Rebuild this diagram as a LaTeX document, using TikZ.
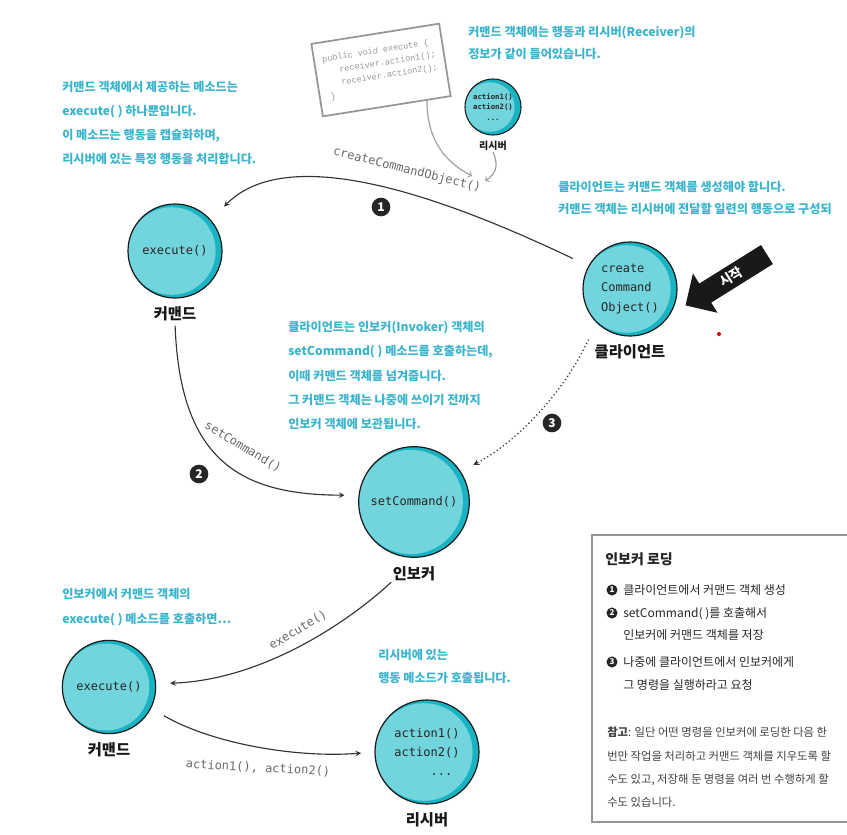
\documentclass[tikz,border=0pt]{standalone}
\usepackage{fontspec}
\setmainfont{Noto Sans CJK KR}
\setmonofont{DejaVu Sans Mono}
\newfontfamily\codefont{Liberation Mono}
\usepackage{xcolor}
\usetikzlibrary{shapes, arrows, calc, positioning}

\definecolor{ballface}{RGB}{114,212,220}
\definecolor{ballrim}{RGB}{24,180,196}
\definecolor{notecyan}{RGB}{58,180,204}
\definecolor{callgray}{RGB}{105,105,105}
\definecolor{framegray}{RGB}{150,150,150}

\tikzset{
  ball/.style={circle, draw=black!90, line width=0.9pt, fill=ballrim, inner sep=0pt,
    align=left, text=black!85, font=\ttfamily\fontsize{9}{14.5}\selectfont,
    path picture={\fill[ballface] let \p1=(path picture bounding box.east),
      \p2=(path picture bounding box.center) in
      ($(\p2)+(-2.4pt,0pt)$) circle[radius={\x1-\x2-2.4pt}];}},
  ballname/.style={font=\bfseries\fontsize{11.5}{12}\selectfont, text=black!90, inner sep=1pt},
  call/.style={text=callgray, font=\ttfamily\fontsize{9}{9}\selectfont, inner sep=1pt},
  flow/.style={-stealth, line width=0.85pt, draw=black!80},
  hint/.style={->, line width=0.9pt, draw=gray!75},
  badge/.style={circle, fill=black!85, text=white, font=\bfseries\fontsize{9}{9}\selectfont,
    inner sep=0pt, minimum size=14pt},
  minibadge/.style={badge, minimum size=8.3pt, font=\bfseries\fontsize{6}{6}\selectfont},
  note/.style={text=notecyan, font=\bfseries\fontsize{9.1}{18}\selectfont, align=left,
    anchor=north west, inner sep=0pt},
  boxtext/.style={text=black!85, font=\fontsize{9}{9}\selectfont, anchor=base west, inner sep=0pt},
  tiptext/.style={boxtext, font=\fontsize{8.5}{8.5}\selectfont, text=black!75},
  codebox/.style={draw=framegray, line width=1.3pt, fill=white, align=left, text=gray!80,
    font=\codefont\fontsize{6.4}{9.6}\selectfont, minimum width=97pt, minimum height=55pt, inner sep=4pt}
}

\begin{document}
\begin{tikzpicture}[x=0.75pt, y=-0.75pt]
\useasboundingbox (0,0) rectangle (847,835);

% objects
\node[ball, minimum size=70.5pt] (cmdA) at (175,251) {execute()};
\node[ballname, below=5pt of cmdA] (cmdAL) {커맨드};
\node[ball, minimum size=70.5pt] (client) at (630,289) {create\\Command\\Object()};
\node[ballname, below=5pt of client] (clientL) {클라이언트};
\node[ball, minimum size=83pt] (inv) at (414,502) {setCommand()};
\node[ballname, below=5pt of inv] (invL) {인보커};
\node[ball, minimum size=70pt] (cmdB) at (109,687) {execute()};
\node[ballname, below=5pt of cmdB] (cmdBL) {커맨드};
\node[ball, minimum size=78pt] (rcvB) at (427,752) {action1()\\action2()\\\phantom{actio}...};
\node[ballname, below=5pt of rcvB] (rcvBL) {리시버};
\node[ball, minimum size=42pt, align=center, line width=0.8pt,
  font=\ttfamily\bfseries\fontsize{5.5}{7.9}\selectfont] (rcvA) at (493,107) {action1()\\action2()\\...};
\node[ballname, font=\bfseries\fontsize{7.5}{8}\selectfont, below=3pt of rcvA] (rcvAL) {리시버};

\node[codebox, rotate=9] (code) at (381,70) {public void execute \{\\\hspace*{1.8em}receiver.action1();\\\hspace*{1.8em}receiver.action2();\\\hspace*{0.3em}\}};

% pointers to the call
\coordinate (hintA) at (472,176);
\coordinate (hintB) at (485,181);
\draw[hint] ($(code.south)!0.62!(code.south east)$) .. controls (427,140) and (445,162) .. (hintA);
\draw[hint] (rcvAL.south) .. controls (500,168) and (494,175) .. (hintB);

% calls
\draw[flow, shorten <=13pt, shorten >=14pt] (client.151) .. controls (450,200) and (290,140) .. (cmdA.41);
\node[call, rotate=-14] (ccoCall) at (407,170) {createCommandObject()};
\node[badge] (b1) at (381,207) {1};

\draw[flow, shorten <=2pt, shorten >=10.5pt] (cmdAL.south) .. controls (180,460) and (240,495) .. (inv.173);
\node[call, rotate=-31] (setCall) at (243,447) {setCommand()};
\node[badge] (b2) at (199,474) {2};

\draw[flow, dotted, line width=1pt, shorten <=14pt, shorten >=10.5pt] (client.225) .. controls (565,390) and (520,440) .. (inv.33);
\node[badge] (b3) at (552,423) {3};

\draw[flow, shorten >=10.5pt] (invL.south west) .. controls (345,625) and (260,680) .. (cmdB.4);
\node[call, rotate=31] (exeCall) at (298,630) {execute()};

\draw[flow, shorten <=11pt, shorten >=10pt] (cmdB.-27) .. controls (215,745) and (300,758) .. (rcvB.180);
\node[call, rotate=-3] (actCall) at (258,768) {action1(), action2()};

% start
\node[single arrow, fill=black!90, text=white, rotate=32, shape border rotate=180,
  minimum height=72pt, single arrow head extend=9pt, inner sep=3.5pt,
  font=\bfseries\fontsize{10}{10}\selectfont] (start) at (731,277) {시작};
\node[circle, fill=red!80!black, inner sep=0pt, minimum size=3pt] (dot) at (719,334) {};

% notes
\node[note] (noteCmd) at (62,81) {커맨드 객체에서 제공하는 메소드는\\execute( ) 하나뿐입니다.\\이 메소드는 행동을 캡슐화하며,\\리시버에 있는 특정 행동을 처리합니다.};
\node[note, font=\bfseries\fontsize{9.1}{16.5}\selectfont] (noteRcv) at (468,26) {커맨드 객체에는 행동과 리시버(Receiver)의\\정보가 같이 들어있습니다.};
\node[note, font=\bfseries\fontsize{9.1}{16.5}\selectfont] (noteClient) at (558,181) {클라이언트는 커맨드 객체를 생성해야 합니다.\\커맨드 객체는 리시버에 전달할 일련의 행동으로 구성되};
\node[note, font=\bfseries\fontsize{9.1}{18.2}\selectfont] (noteInv) at (288,321) {클라이언트는 인보커(Invoker) 객체의\\setCommand( ) 메소드를 호출하는데,\\이때 커맨드 객체를 넘겨줍니다.\\그 커맨드 객체는 나중에 쓰이기 전까지\\인보커 객체에 보관됩니다.};
\node[note, font=\bfseries\fontsize{9.1}{18.75}\selectfont] (noteExec) at (62,588) {인보커에서 커맨드 객체의\\execute( ) 메소드를 호출하면…};
\node[note, font=\bfseries\fontsize{9.1}{17}\selectfont] (noteAct) at (378,649) {리시버에 있는\\행동 메소드가 호출됩니다.};

% loading box
\draw[framegray, line width=1.2pt] (860,535) -- (592,535) -- (592,822) -- (860,822);
\node[boxtext, font=\bfseries\fontsize{10.5}{10.5}\selectfont] (boxTitle) at (605,564) {인보커 로딩};
\node[minibadge] (m1) at (612,590) {1};
\node[boxtext] (item1) at (623,594.5) {클라이언트에서 커맨드 객체 생성};
\node[minibadge] (m2) at (612,613) {2};
\node[boxtext] (item2a) at (623,617.5) {setCommand( )를 호출해서};
\node[boxtext] (item2b) at (623,639.5) {인보커에 커맨드 객체를 저장};
\node[minibadge] (m3) at (612,662) {3};
\node[boxtext] (item3a) at (623,666.5) {나중에 클라이언트에서 인보커에게};
\node[boxtext] (item3b) at (623,689.5) {그 명령을 실행하라고 요청};
\foreach \txt [count=\i] in {{\textbf{참고}: 일단 어떤 명령을 인보커에 로딩한 다음 한}, {번만 작업을 처리하고 커맨드 객체를 지우도록 할}, {수도 있고, 저장해 둔 명령을 여러 번 수행하게 할}, {수도 있습니다.}}
  \node[tiptext] (tip\i) at (607,{713.5+23.3*\i}) {\txt};
\end{tikzpicture}
\end{document}
